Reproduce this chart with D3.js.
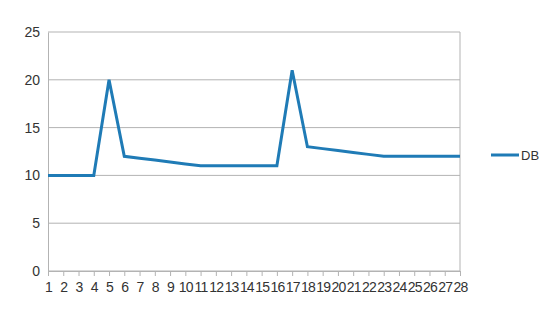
<!DOCTYPE html>
<html>
<head>
<meta charset="utf-8">
<script src="https://cdn.jsdelivr.net/npm/d3@7"></script>
<style>
body { margin: 0; background: #fff; }
text { font-family: "Liberation Sans", Arial, sans-serif; fill: #333; }
</style>
</head>
<body>
<svg id="chart" width="550" height="313"></svg>
<script>
// categories along the bottom
var days = d3.range(1, 29)
// series "DB"
var dbValues = [10, 10, 10, 10, 20, 12, 11.8, 11.6, 11.4, 11.2, 11, 11, 11, 11, 11, 11, 21, 13,
  12.8, 12.6, 12.4, 12.2, 12, 12, 12, 12, 12, 12]
var yTicks = [0, 5, 10, 15, 20, 25]
var seriesName = 'DB'

var svg = d3.select('#chart')
var plot = {left: 48, right: 460, top: 32, bottom: 271}

var x = d3.scalePoint()
  .domain(days)
  .range([plot.left, plot.right])

var y = d3.scaleLinear()
  .domain([0, 25])
  .range([plot.bottom, plot.top])

// horizontal grid
svg.append('g')
  .selectAll('line')
  .data(yTicks)
  .enter()
  .append('line')
  .attr('x1', plot.left)
  .attr('x2', plot.right)
  .attr('y1', d => y(d))
  .attr('y2', d => y(d))
  .attr('stroke', '#b3b3b3')
  .attr('stroke-width', 1)

// right border
svg.append('line')
  .attr('x1', plot.right).attr('x2', plot.right)
  .attr('y1', plot.top).attr('y2', plot.bottom)
  .attr('stroke', '#b3b3b3')

// y axis
var yAxis = svg.append('g')
  .attr('transform', 'translate(' + plot.left + ',0)')
  .call(d3.axisLeft(y).tickValues(yTicks).tickSize(0).tickPadding(8))
yAxis.select('.domain').attr('stroke', '#b3b3b3')
yAxis.selectAll('text').attr('font-size', 14).attr('fill', '#333')
  .attr('font-family', '"Liberation Sans", Arial, sans-serif')

// x axis
var xAxis = svg.append('g')
  .attr('transform', 'translate(0,' + plot.bottom + ')')
  .call(d3.axisBottom(x).tickSizeOuter(0).tickSizeInner(5).tickPadding(6))
xAxis.select('.domain').attr('stroke', '#b3b3b3')
xAxis.selectAll('.tick line').attr('stroke', '#b3b3b3')
xAxis.selectAll('text').attr('font-size', 14).attr('fill', '#333')
  .attr('font-family', '"Liberation Sans", Arial, sans-serif')
  .attr('letter-spacing', '-0.8')

// the line
var line = d3.line()
  .x((d, i) => x(days[i]))
  .y(d => y(d))

svg.append('path')
  .datum(dbValues)
  .attr('d', line)
  .attr('fill', 'none')
  .attr('stroke', '#1f7bb6')
  .attr('stroke-width', 3)
  .attr('stroke-linejoin', 'miter')

// legend
svg.append('line')
  .attr('x1', 491).attr('x2', 519)
  .attr('y1', 155).attr('y2', 155)
  .attr('stroke', '#1f7bb6')
  .attr('stroke-width', 3)
svg.append('text')
  .attr('x', 521)
  .attr('y', 155)
  .attr('dy', '0.35em')
  .attr('font-size', 13)
  .text(seriesName)
</script>
</body>
</html>
